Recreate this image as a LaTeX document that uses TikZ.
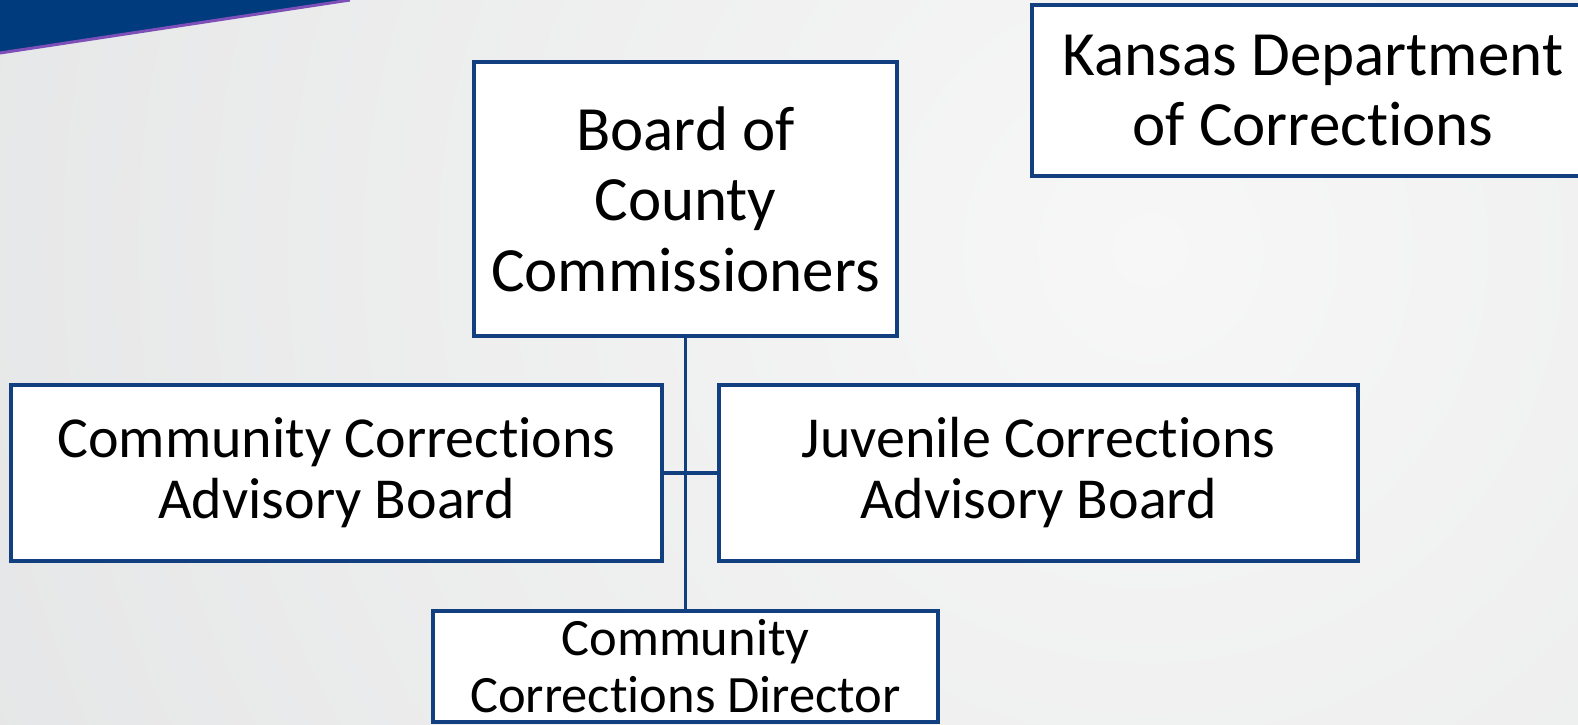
\documentclass[tikz,border=0pt]{standalone}
\usepackage{fontspec}
\setmainfont[Ligatures=NoCommon]{Carlito}
\definecolor{boxblue}{HTML}{123F7F}
\definecolor{bannerblue}{HTML}{003B7D}
\definecolor{bannerpurple}{HTML}{7E4FB8}
\definecolor{bglight}{HTML}{F7F7F7}
\definecolor{bgdark}{HTML}{E2E3E4}
\begin{document}
\begin{tikzpicture}[x=1pt,y=-1pt,
  orgbox/.style={draw=boxblue, line width=3.3pt, fill=white, inner sep=0pt, align=center, text=black},
  conn/.style={draw=boxblue, line width=3.3pt}]
\useasboundingbox (0,0) rectangle (1578,724);
\clip (0,0) rectangle (1578,724);
% background
\shade[inner color=bglight, outer color=bgdark] (1150,250) circle[radius=1500pt];
% banner
\fill[bannerblue] (-5,-5) -- (380,-5) -- (347,0) -- (0,53) -- cycle;
\draw[bannerpurple, line width=3pt] (0,53) -- (350,0);
% nodes
\node[orgbox, minimum width=423pt, minimum height=274pt,
      font=\fontsize{63}{70.5}\selectfont] (board) at (685.5,199) {Board of\\County\\Commissioners};
\node[orgbox, minimum width=562pt, minimum height=171pt,
      font=\fontsize{63}{70.5}\selectfont] (kdoc) at (1313,90.5) {Kansas Department\\of Correct\kern0pt ions};
\node[orgbox, minimum width=651pt, minimum height=176pt,
      font=\fontsize{58}{61}\selectfont] (cab) at (336.5,473) {Community Correct\kern0pt ions\\Advisory Board};
\node[orgbox, minimum width=639pt, minimum height=176pt,
      font=\fontsize{58}{61}\selectfont] (jab) at (1038.5,473) {Juvenile Correct\kern0pt ions\\Advisory Board};
\node[orgbox, minimum width=505pt, minimum height=111pt,
      font=\fontsize{52.5}{57}\selectfont] (dir) at (685.5,666.5) {Community\\Correct\kern0pt ions Director};
% connectors
\draw[conn] (board.south) -- (dir.north);
\draw[conn] (cab.east) -- (jab.west);
\end{tikzpicture}
\end{document}
